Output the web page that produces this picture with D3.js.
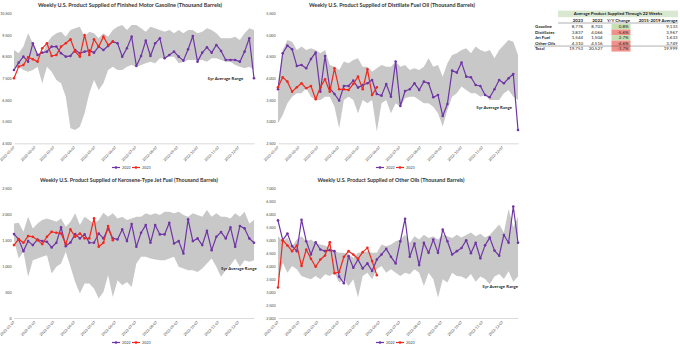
<!DOCTYPE html>
<html>
<head>
<meta charset="utf-8">
<script src="https://cdn.jsdelivr.net/npm/d3@7"></script>
<style>
    body { margin: 0; background: #fff; }
    svg { display: block; font-family: Lato, "Open Sans", sans-serif; }
</style>
</head>
<body>
<svg id="chart" width="680" height="348"></svg>
<script>
// weekly x categories (week ending dates) and month tick labels
const firstWeek = '2022-01-07';
const weekCount = 52;
const monthTicks = ['2022-01-07', '2022-02-07', '2022-03-07', '2022-04-07', '2022-05-07', '2022-06-07',
    '2022-07-07', '2022-08-07', '2022-09-07', '2022-10-07', '2022-11-07', '2022-12-07'];
const seriesNames = ['2022', '2023'];

// Finished motor gasoline
const gasoline2022 = [7885, 8223, 8500, 8269, 9115, 8577, 8685, 8731, 8962, 8962,
    8654, 8500, 8531, 8808, 8654, 8731, 8777, 8685, 8962, 8808,
    8992, 9192, 9115, 8500, 8885, 9423, 8069, 8531, 9238, 8531,
    9115, 9346, 8423, 8577, 8731, 8500, 8315, 8838, 9454, 8269,
    8685, 8931, 8685, 9038, 8762, 8346, 8346, 8346, 8269, 8731,
    9346, 7500];
const gasoline2023 = [7500, 8038, 8115, 8469, 8377, 8269, 8885, 9115, 8531, 8577, 8962,
    9115, 9300, 8731, 8500, 9500, 8577, 9300, 8962, 9423, 9038, 9192];
const gasolineHigh = [8808, 8654, 8962, 9577, 9115, 8654, 8577, 9115, 9423, 9577,
    9654, 9423, 9731, 9808, 9885, 9423, 9654, 9577, 9346, 9577,
    9423, 9731, 9885, 9962, 9731, 9962, 9962, 9808, 9654, 9885,
    9808, 9731, 9654, 9731, 9577, 9731, 9577, 9731, 9731, 9577,
    9654, 9808, 9731, 9577, 9346, 9346, 9346, 9423, 9269, 9577,
    9808, 9731];
const gasolineLow = [7950, 8038, 7885, 7808, 7885, 8038, 7269, 8038, 7808, 7423,
    7269, 6654, 5192, 5115, 5269, 5885, 6808, 7423, 6962, 7269,
    7885, 8038, 7885, 7885, 8038, 8115, 8038, 8115, 8192, 8269,
    8192, 8423, 8423, 8500, 8500, 8192, 8269, 8346, 8346, 8346,
    8346, 8269, 8423, 8423, 8346, 8269, 8269, 8115, 8038, 7962,
    8038, 7885];
const gasolineTicks = [4500, 5500, 6500, 7500, 8500, 9500, 10500];

// Distillate fuel oil
const distillate2022 = [3746, 4577, 4754, 4669, 4285, 4308, 4231, 4446, 4592, 3692,
    4515, 3769, 3638, 3485, 3823, 3823, 3946, 3785, 3846, 3885,
    3962, 3638, 3600, 3869, 3577, 4385, 3362, 3708, 3746, 3885,
    3731, 3923, 3885, 3562, 3615, 3131, 3408, 4177, 4131, 4362,
    4038, 4023, 3846, 3823, 3615, 3562, 3746, 3962, 3885, 4000,
    4100, 2808];
const distillate2023 = [3792, 4023, 3923, 3692, 3792, 3885, 3769, 3823, 3515, 3792, 3977,
    3692, 4231, 3746, 3746, 3731, 3869, 4038, 3746, 4208, 3615, 3792];
const distillateHigh = [3885, 4654, 4885, 4846, 4654, 4731, 4654, 4692, 4654, 4577,
    4654, 4308, 4269, 4192, 4385, 4346, 4423, 4462, 4269, 4269,
    4154, 4231, 4308, 4269, 4269, 4385, 4269, 4308, 4192, 4231,
    4192, 4269, 4462, 4269, 4308, 4038, 4346, 4538, 4577, 4654,
    4692, 4577, 4731, 4654, 4615, 4654, 4462, 4654, 4769, 4885,
    4846, 4538];
const distillateLow = [2962, 3154, 3423, 3577, 3654, 3654, 3769, 3577, 3500, 3500,
    3577, 3577, 3346, 2846, 3500, 3577, 3500, 3192, 3500, 3423,
    3500, 2769, 3423, 3500, 3192, 3423, 3346, 3538, 3577, 3577,
    3500, 3423, 3423, 3346, 3192, 2885, 3269, 3577, 3654, 3808,
    3731, 3654, 3654, 3577, 3615, 3500, 3500, 3500, 3654, 3731,
    3577, 3500];
const distillateTicks = [2500, 3000, 3500, 4000, 4500, 5000, 5500];

// Kerosene-type jet fuel
const jet2022 = [1617, 1514, 1289, 1482, 1405, 1514, 1482, 1469, 1360, 1450,
    1746, 1385, 1456, 1617, 1534, 1611, 1450, 1450, 1630, 1534,
    1727, 1534, 1514, 1708, 1482, 1811, 1372, 1643, 1791, 1450,
    1791, 1611, 1611, 1836, 1437, 1482, 1244, 1901, 1482, 1534,
    1405, 1682, 1308, 1566, 1656, 1534, 1746, 1372, 1772, 1727,
    1534, 1450];
const jet2023 = [1405, 1521, 1450, 1579, 1566, 1501, 1424, 1566, 1662, 1643, 1630,
    1424, 1708, 1566, 1630, 1534, 1534, 1920, 1372, 1450, 1772, 1501];
const jetHigh = [1823, 1836, 1662, 1952, 1727, 1823, 1888, 1920, 1888, 1856,
    1920, 1759, 1856, 2017, 1791, 1952, 1888, 1823, 1888, 2030,
    1952, 2017, 1920, 1952, 1888, 1920, 1952, 1952, 2017, 1985,
    2017, 1985, 2049, 2049, 2017, 2049, 1985, 1952, 2017, 1985,
    1952, 2081, 1952, 2017, 1952, 1952, 1920, 2017, 1952, 2049,
    1823, 1888];
const jetLow = [1501, 1147, 1276, 793, 1115, 1147, 1179, 1211, 857, 986,
    1050, 1276, 986, 696, 470, 664, 664, 567, 374, 503,
    825, 406, 728, 632, 696, 599, 1050, 1179, 1179, 1147,
    1128, 1115, 1115, 1147, 1179, 986, 954, 921, 921, 889,
    954, 1050, 1147, 986, 793, 921, 1018, 1147, 986, 1115,
    1083, 1115];
const jetTicks = [0, 500, 1000, 1500, 2000, 2500];

// Other oils
const other2022 = [5763, 5000, 5255, 4770, 4577, 5788, 4959, 4449, 4920, 4640,
    4577, 4615, 4577, 3594, 3339, 4385, 3939, 4257, 3913, 4104,
    3811, 4257, 4449, 4666, 4360, 4104, 4959, 5827, 4360, 4870,
    4040, 4895, 4512, 5023, 4512, 5406, 4959, 4449, 4577, 4700,
    5000, 4500, 4900, 4300, 4800, 5100, 4600, 4400, 5200, 4900,
    6300, 4900];
const other2023 = [3173, 5000, 4796, 4577, 4796, 4003, 4640, 4283, 3977, 4257, 4410,
    4920, 3722, 3773, 4360, 4577, 4449, 4283, 4538, 4704, 4194, 3646];
const otherHigh = [5151, 4959, 5087, 4768, 5023, 5151, 4959, 5023, 4895, 4832,
    4793, 4704, 4577, 4513, 4513, 4449, 4321, 4513, 4538, 4577,
    4513, 4513, 4832, 4768, 4832, 4959, 5023, 5214, 4895, 5151,
    5023, 5214, 5087, 5151, 5023, 5214, 5151, 5087, 5214, 5100,
    5200, 5300, 5150, 5250, 5100, 5200, 5400, 5600, 5300, 6200,
    5500, 5900];
const otherLow = [3492, 4130, 3747, 4003, 3875, 3620, 3556, 3492, 3620, 3492,
    3684, 3620, 3747, 3365, 3492, 3237, 3492, 2791, 3620, 3747,
    3492, 3875, 4003, 3747, 3875, 3747, 3620, 3747, 3684, 3875,
    3747, 3237, 3747, 3492, 2791, 3492, 3365, 3747, 3620, 3600,
    3500, 3700, 3400, 3600, 3500, 3300, 3600, 3700, 3500, 3800,
    3400, 3600];
const otherTicks = [2000, 2500, 3000, 3500, 4000, 4500, 5000, 5500, 6000, 6500, 7000];

// summary table
const tableTitle = 'Average Product Supplied Through 22 Weeks';
const tableColumns = ['2023', '2022', 'Y/Y Change', '2015-2019 Average'];
const tableRows = ['Gasoline', 'Distillates', 'Jet Fuel', 'Other Oils', 'Total'];
const avg2023 = [8776, 3837, 1544, 4310, 19753];
const avg2022 = [8703, 4066, 1504, 4516, 20527];
const yoyChange = ['0.8%', '-5.6%', '2.7%', '-4.6%', '-3.7%'];
const avg2015to2019 = [9133, 3967, 1633, 3749, 19999];

const PURPLE = '#6f35a5';
const RED = '#f0281e';
const BAND = '#c8c8c8';

const svg = d3.select('#chart');
const parse = d3.timeParse('%Y-%m-%d');
const start = parse(firstWeek);
const weekDate = i => d3.timeDay.offset(start, 7 * i);

function drawPanel(p) {
    const x = d3.scaleTime()
        .domain([start, weekDate(weekCount - 1)])
        .range([p.left, p.left + 240]);
    const y = d3.scaleLinear()
        .domain(d3.extent(p.ticks))
        .range([p.bottom, p.top]);

    const g = svg.append('g');

    // title
    g.append('text')
        .attr('x', p.titleX)
        .attr('y', p.top - 6)
        .attr('text-anchor', 'middle')
        .attr('font-size', 5.6)
        .attr('font-weight', 700)
        .attr('fill', '#333')
        .attr('textLength', p.titleWidth)
        .attr('lengthAdjust', 'spacingAndGlyphs')
        .text(p.title);

    // 5yr range band
    const area = d3.area()
        .x((d, i) => x(weekDate(i)))
        .y0((d, i) => y(p.low[i]))
        .y1(d => y(d));
    g.append('path')
        .datum(p.high)
        .attr('d', area)
        .attr('fill', BAND);

    // axes
    const xAxis = g.append('g')
        .attr('transform', `translate(0,${p.bottom})`)
        .call(d3.axisBottom(x)
            .tickValues(monthTicks.map(parse))
            .tickFormat(d3.timeFormat('%Y-%m-%d'))
            .tickSize(0));
    xAxis.select('.domain').attr('stroke', '#d0d0d0').attr('stroke-width', 0.8);
    xAxis.selectAll('text')
        .attr('x', -0.5)
        .attr('y', 0)
        .attr('dy', '0.35em')
        .attr('transform', 'translate(0,3.2) rotate(-45)')
        .attr('text-anchor', 'end')
        .attr('font-size', 3.6)
        .attr('font-family', 'Lato, sans-serif')
        .attr('fill', '#444');

    const yAxis = g.append('g')
        .attr('transform', `translate(${p.left},0)`)
        .call(d3.axisLeft(y)
            .tickValues(p.ticks)
            .tickFormat(d3.format(','))
            .tickSize(0)
            .tickPadding(2.5));
    yAxis.select('.domain').remove();
    yAxis.selectAll('text')
        .attr('font-size', 3.6)
        .attr('font-family', 'Lato, sans-serif')
        .attr('fill', '#444');

    // series lines, 2023 on top
    const line = d3.line()
        .x((d, i) => x(weekDate(i)))
        .y(d => y(d));
    [[p.s2022, PURPLE], [p.s2023, RED]].forEach(([data, color]) => {
        g.append('path')
            .datum(data)
            .attr('d', line)
            .attr('fill', 'none')
            .attr('stroke', color)
            .attr('stroke-width', 1.2)
            .attr('stroke-linejoin', 'round');
        g.selectAll(null)
            .data(data)
            .join('circle')
            .attr('cx', (d, i) => x(weekDate(i)))
            .attr('cy', d => y(d))
            .attr('r', 1.3)
            .attr('fill', color);
    });

    // range label
    g.append('text')
        .attr('x', x(weekDate(p.rangeLabel[0])))
        .attr('y', y(p.rangeLabel[1]))
        .attr('dy', '0.35em')
        .attr('font-size', 4.3)
        .attr('font-weight', 700)
        .attr('fill', '#222')
        .text('5yr Average Range');

    // legend
    const lg = g.append('g')
        .attr('transform', `translate(${p.left + 98},${p.legendY})`);
    seriesNames.forEach((name, i) => {
        const color = i === 0 ? PURPLE : RED;
        const item = lg.append('g').attr('transform', `translate(${i * 20},0)`);
        item.append('line')
            .attr('x1', 0).attr('x2', 8)
            .attr('stroke', color).attr('stroke-width', 1.2);
        item.append('circle').attr('cx', 4).attr('r', 1.3).attr('fill', color);
        item.append('text')
            .attr('x', 10).attr('dy', '0.35em')
            .attr('font-size', 3.8)
            .attr('fill', '#444')
            .text(name);
    });
}

drawPanel({
    title: 'Weekly U.S. Product Supplied of Finished Motor Gasoline (Thousand Barrels)',
    titleX: 130, titleWidth: 184,
    left: 14, top: 13.3, bottom: 143.3, legendY: 167.5,
    ticks: gasolineTicks, s2022: gasoline2022, s2023: gasoline2023,
    high: gasolineHigh, low: gasolineLow, rangeLabel: [41.2, 7500]
});
drawPanel({
    title: 'Weekly U.S. Product Supplied of Distillate Fuel Oil (Thousand Barrels)',
    titleX: 392, titleWidth: 166,
    left: 278, top: 13.3, bottom: 143.3, legendY: 167.5,
    ticks: distillateTicks, s2022: distillate2022, s2023: distillate2023,
    high: distillateHigh, low: distillateLow, rangeLabel: [42.2, 3330]
});
drawPanel({
    title: 'Weekly U.S. Product Supplied of Kerosene-Type Jet Fuel (Thousand Barrels)',
    titleX: 129, titleWidth: 178,
    left: 14, top: 188.3, bottom: 318, legendY: 342.5,
    ticks: jetTicks, s2022: jet2022, s2023: jet2023,
    high: jetHigh, low: jetLow, rangeLabel: [44, 960]
});
drawPanel({
    title: 'Weekly U.S. Product Supplied of Other Oils (Thousand Barrels)',
    titleX: 391, titleWidth: 147,
    left: 278, top: 188.3, bottom: 318, legendY: 342.5,
    ticks: otherTicks, s2022: other2022, s2023: other2023,
    high: otherHigh, low: otherLow, rangeLabel: [43.5, 3220]
});

// summary table
function drawTable() {
    const t = svg.append('g').attr('font-size', 4.4).attr('fill', '#222');
    const fmt = d3.format(',');
    const rowY = d3.scalePoint().domain(tableRows).range([26.8, 48.8]);
    const rowH = 5.5;

    t.append('rect')
        .attr('x', 558).attr('y', 10.6).attr('width', 120).attr('height', 6.6)
        .attr('fill', '#d9e8d0');
    t.append('text')
        .attr('x', 618).attr('y', 13.9).attr('dy', '0.35em')
        .attr('text-anchor', 'middle').attr('font-weight', 700)
        .text(tableTitle);

    const colRight = [583, 602.5, 630, 677.5];
    tableColumns.forEach((c, i) => {
        t.append('text')
            .attr('x', colRight[i]).attr('y', 20.2).attr('dy', '0.35em')
            .attr('text-anchor', 'end').attr('font-weight', 700)
            .text(c);
    });
    t.append('line')
        .attr('x1', 558).attr('x2', 678).attr('y1', 23).attr('y2', 23)
        .attr('stroke', '#333').attr('stroke-width', 0.4);

    tableRows.forEach((r, i) => {
        const cy = rowY(r);
        const positive = avg2023[i] >= avg2022[i];
        t.append('rect')
            .attr('x', 611.5).attr('y', cy - rowH / 2).attr('width', 19).attr('height', rowH)
            .attr('fill', positive ? '#c6e0b4' : '#f2918b');
        t.append('text')
            .attr('x', 535).attr('y', cy).attr('dy', '0.35em')
            .attr('font-weight', 700)
            .text(r);
        [fmt(avg2023[i]), fmt(avg2022[i]), yoyChange[i], fmt(avg2015to2019[i])].forEach((v, j) => {
            t.append('text')
                .attr('x', colRight[j] - (j === 2 ? 1.5 : 0)).attr('y', cy).attr('dy', '0.35em')
                .attr('text-anchor', 'end')
                .text(v);
        });
    });
    const lastGap = (rowY(tableRows[3]) + rowY(tableRows[4])) / 2;
    t.append('line')
        .attr('x1', 534).attr('x2', 678).attr('y1', lastGap).attr('y2', lastGap)
        .attr('stroke', '#333').attr('stroke-width', 0.4);
}
drawTable();
</script>
</body>
</html>
